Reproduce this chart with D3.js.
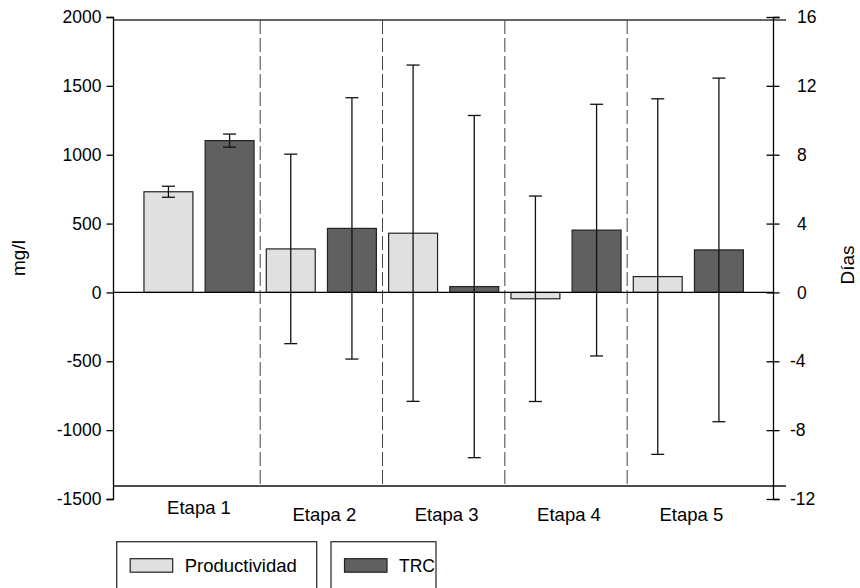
<!DOCTYPE html>
<html>
<head>
<meta charset="utf-8">
<script src="https://cdn.jsdelivr.net/npm/d3@7"></script>
<style>
body { margin:0; background:#fff; }
text { font-family: "Liberation Sans", Arial, sans-serif; fill:#000; }
</style>
</head>
<body>
<div id="chart"></div>
<script>
// datos por etapa
var stages = ['Etapa 1','Etapa 2','Etapa 3','Etapa 4','Etapa 5'];
var series = ['Productividad','TRC'];
var prodMean = [731, 316, 430, -46, 115];      // mg/l
var prodErr  = [40, 688, 1221, 746, 1291];
var trcMean  = [8.82, 3.72, 0.34, 3.62, 2.47]; // días
var trcErr   = [0.38, 7.59, 9.94, 7.31, 9.98];
var mgTicks  = [-1500, -1000, -500, 0, 500, 1000, 1500, 2000];
var dayTicks = [-12, -8, -4, 0, 4, 8, 12, 16];
var colors   = {Productividad:'#e0e0e0', TRC:'#606060'};

var W = 860, H = 588;
var xL = 113, xR = 773, yTop = 17, yBot = 499;
var frameTop = 20, frameBot = 486, frameEnd = 786;

var svg = d3.select('#chart').append('svg').attr('width',W).attr('height',H);

var yMg = d3.scaleLinear().domain([-1500,2000]).range([yBot,yTop]);
var yDay = d3.scaleLinear().domain([-12,16]).range([yBot,yTop]);
var x0 = d3.scaleBand().domain(stages).range([137.85,749.5]).paddingInner(0).paddingOuter(0);
var x1 = d3.scaleBand().domain(series).range([0,x0.bandwidth()]).paddingInner(0.2).paddingOuter(0.1);

var rows = stages.map((s,i)=>[
    {stage:s, key:'Productividad', y:yMg(prodMean[i]), yhi:yMg(prodMean[i]+prodErr[i]), ylo:yMg(prodMean[i]-prodErr[i])},
    {stage:s, key:'TRC', y:yDay(trcMean[i]), yhi:yDay(trcMean[i]+trcErr[i]), ylo:yDay(trcMean[i]-trcErr[i])}
]).flat();

// marco superior e inferior
svg.append('line').attr('x1',xL).attr('x2',frameEnd).attr('y1',frameTop).attr('y2',frameTop)
    .style('stroke','#333').style('stroke-width',1.3);
svg.append('line').attr('x1',xL).attr('x2',frameEnd).attr('y1',frameBot).attr('y2',frameBot)
    .style('stroke','#111').style('stroke-width',1.3);

// separadores de etapas
svg.selectAll('.sep').data(stages.slice(1)).enter().append('line').attr('class','sep')
    .attr('x1',d=>x0(d)).attr('x2',d=>x0(d)).attr('y1',frameTop).attr('y2',frameBot+2)
    .style('stroke','#444').style('stroke-width',1).style('stroke-dasharray','14,4');

// barras
var g = svg.selectAll('.bar').data(rows).enter().append('g')
    .attr('transform',d=>'translate('+(x0(d.stage)+x1(d.key))+',0)');
g.append('rect')
    .attr('x',0).attr('width',x1.bandwidth())
    .attr('y',d=>Math.min(d.y,yMg(0))).attr('height',d=>Math.abs(yMg(0)-d.y))
    .style('fill',d=>colors[d.key]).style('stroke','#222').style('stroke-width',1.2);

// linea de cero
svg.append('line').attr('x1',xL).attr('x2',xR).attr('y1',yMg(0)).attr('y2',yMg(0))
    .style('stroke','#000').style('stroke-width',1.3);

// barras de error
var cx = x1.bandwidth()/2, cap = 6.5;
g.append('line').attr('x1',cx).attr('x2',cx).attr('y1',d=>d.yhi).attr('y2',d=>d.ylo)
    .style('stroke','#111').style('stroke-width',1.3);
g.append('line').attr('x1',cx-cap).attr('x2',cx+cap).attr('y1',d=>d.yhi).attr('y2',d=>d.yhi)
    .style('stroke','#111').style('stroke-width',1.3);
g.append('line').attr('x1',cx-cap).attr('x2',cx+cap).attr('y1',d=>d.ylo).attr('y2',d=>d.ylo)
    .style('stroke','#111').style('stroke-width',1.3);

// eje izquierdo
var axL = svg.append('g').attr('transform','translate('+xL+',0)')
    .call(d3.axisLeft(yMg).tickValues(mgTicks).tickFormat(d=>String(d))
        .tickSizeOuter(0).tickSize(6.5).tickPadding(5));
axL.select('.domain').style('stroke','#000').style('stroke-width',1.3);
axL.selectAll('.tick line').style('stroke','#000').style('stroke-width',1.3);
axL.selectAll('.tick text').style('font-size','17.5px').attr('font-family',null);

// eje derecho (ticks a ambos lados)
var axR = svg.append('g').attr('transform','translate('+xR+',0)')
    .call(d3.axisRight(yDay).tickValues(dayTicks).tickSizeOuter(0).tickSize(6.5).tickPadding(17));
axR.select('.domain').style('stroke','#000').style('stroke-width',1.3);
axR.selectAll('.tick line').attr('x1',-6.5).style('stroke','#000').style('stroke-width',1.3);
axR.selectAll('.tick text').style('font-size','17.5px').attr('font-family',null)
    .attr('x',d=>d<0?17:24).text(d=>String(d));

// etiquetas de etapas
svg.selectAll('.lab').data(stages).enter().append('text')
    .attr('x',(d,i)=>x0(d)+x0.bandwidth()/2+(i?3:0))
    .attr('y',(d,i)=>i?521:514)
    .attr('text-anchor','middle').style('font-size','18.5px').text(d=>d);

// titulos de ejes
svg.append('text').attr('transform','translate(25,258) rotate(-90)')
    .attr('text-anchor','middle').style('font-size','19px').text('mg/l');
svg.append('text').attr('transform','translate(854,265) rotate(-90)')
    .attr('text-anchor','middle').style('font-size','19px').text('Días');

// leyenda
var legBoxes = [{x:116.7, w:200}, {x:331, w:105}];
var leg = svg.selectAll('.leg').data(series).enter().append('g')
    .attr('transform',(d,i)=>'translate('+legBoxes[i].x+',541.7)');
leg.append('rect').attr('x',0).attr('y',0).attr('width',(d,i)=>legBoxes[i].w).attr('height',60)
    .style('fill','none').style('stroke','#333').style('stroke-width',1.3);
leg.append('rect').attr('x',13.5).attr('y',17).attr('width',42.5).attr('height',13.5)
    .style('fill',d=>colors[d]).style('stroke','#222').style('stroke-width',1.2);
leg.append('text').attr('x',68).attr('y',30).style('font-size',(d,i)=>i?'17.5px':'18.5px').text(d=>d);
</script>
</body>
</html>
